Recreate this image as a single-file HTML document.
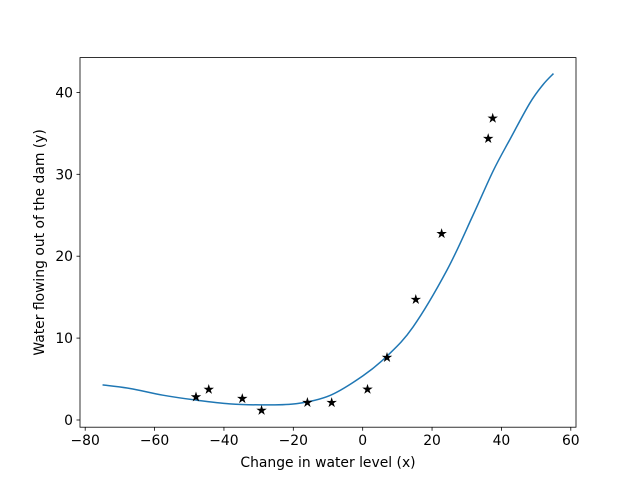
<!DOCTYPE html>
<html><head><meta charset="utf-8"><style>
html,body{margin:0;padding:0;background:#fff;}
svg{display:block;font-family:"DejaVu Sans","Liberation Sans",sans-serif;}
</style></head><body>
<svg id="chart" width="640" height="480" xmlns="http://www.w3.org/2000/svg">
<rect width="640" height="480" fill="#fff"/>
<g id="plot"></g>
</svg>
<script>
const pointX = [-15.94,-29.15,36.19,37.49,-48.06,-8.94,15.31,-34.71,1.39,-44.38,7.01,22.76];
const pointY = [2.13,1.17,34.36,36.84,2.81,2.12,14.71,2.61,3.74,3.73,7.63,22.75];
const curveX = [-75,-67.1,-57.6,-47.9,-38.3,-28.7,-19.0,-9.4,0.1,7.0,14.5,24.3,31.8,37.6,42.5,48.2,52.0,55];
const curveY = [4.29,3.85,3.03,2.42,1.97,1.85,2.0,3.0,5.4,7.8,11.35,18.3,25.0,30.4,34.3,38.7,40.95,42.3];
const xTicks = [-80,-60,-40,-20,0,20,40,60];
const yTicks = [0,10,20,30,40];

const L=80,R=576,T=57.6,B=427.2;
const xMin=-81.5,xMax=61.5,yMin=-0.88,yMax=44.25;
const sx=v=>L+(v-xMin)/(xMax-xMin)*(R-L);
const sy=v=>B-(v-yMin)/(yMax-yMin)*(B-T);
const NS="http://www.w3.org/2000/svg";
const g=document.getElementById('plot');
function mk(t,a){const e=document.createElementNS(NS,t);for(const k in a)e.setAttribute(k,a[k]);g.appendChild(e);return e;}

const pts=curveX.map((x,i)=>[sx(x),sy(curveY[i])]);
let d=`M${pts[0][0]},${pts[0][1]}`;
for(let i=0;i<pts.length-1;i++){
  const p0=pts[Math.max(i-1,0)],p1=pts[i],p2=pts[i+1],p3=pts[Math.min(i+2,pts.length-1)];
  const c1=[p1[0]+(p2[0]-p0[0])/6,p1[1]+(p2[1]-p0[1])/6];
  const c2=[p2[0]-(p3[0]-p1[0])/6,p2[1]-(p3[1]-p1[1])/6];
  d+=` C${c1[0]},${c1[1]} ${c2[0]},${c2[1]} ${p2[0]},${p2[1]}`;
}
const line=mk('path',{d:d,fill:'none',stroke:'#1f77b4','stroke-width':1.5});



function star(cx,cy,r){let s='';for(let k=0;k<10;k++){const a=-Math.PI/2+k*Math.PI/5;const rr=k%2?r*0.38:r;s+=(k?'L':'M')+(cx+rr*Math.cos(a)).toFixed(2)+','+(cy+rr*Math.sin(a)).toFixed(2);}return s+'Z';}
pointX.forEach((x,i)=>{
  const p=mk('path',{d:star(sx(x),sy(pointY[i]),5.5),fill:'#000'});
  
  
});

const frame=mk('rect',{x:L,y:T,width:R-L,height:B-T,fill:'none',stroke:'#000','stroke-width':0.8});



xTicks.forEach(v=>{
  const x=sx(v);
  const t=mk('line',{x1:x,x2:x,y1:B,y2:B+3.5,stroke:'#000','stroke-width':0.8});
  
  
  const l=mk('text',{x:x,y:B+18,'font-size':13.9,'text-anchor':'middle'});
  l.textContent=(v<0?'\u2212'+(-v):v);
  
  
});
yTicks.forEach(v=>{
  const y=sy(v);
  const t=mk('line',{x1:L-3.5,x2:L,y1:y,y2:y,stroke:'#000','stroke-width':0.8});
  
  
  const l=mk('text',{x:L-7,y:y+5,'font-size':13.9,'text-anchor':'end'});
  l.textContent=v;
  
  
});
const xt=mk('text',{x:(L+R)/2,y:467,'font-size':13.9,'text-anchor':'middle'});
xt.textContent='Change in water level (x)';


const yt=mk('text',{x:0,y:0,'font-size':13.9,'text-anchor':'middle',transform:`translate(44,${(T+B)/2}) rotate(-90)`});
yt.textContent='Water flowing out of the dam (y)';


</script>
</body></html>
